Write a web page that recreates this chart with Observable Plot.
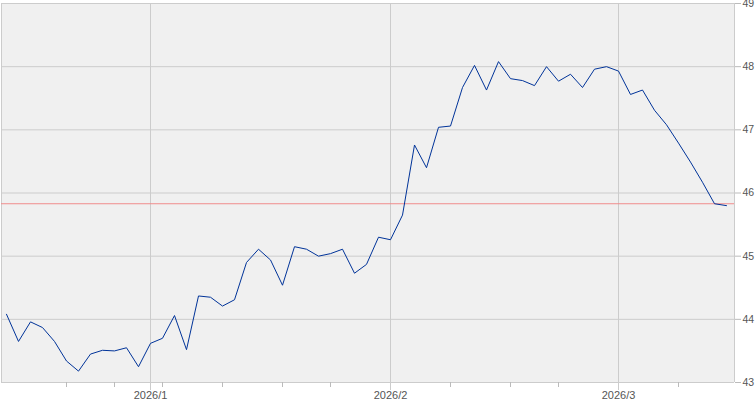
<!DOCTYPE html>
<html><head><meta charset="utf-8">
<script src="https://cdn.jsdelivr.net/npm/d3@7"></script>
<script src="https://cdn.jsdelivr.net/npm/@observablehq/plot@0.6"></script>
<style>body{margin:0;background:#fff}</style>
</head><body><div id="chart"></div>
<script>
const dates = [
  "2025-12-15","2025-12-16","2025-12-17","2025-12-18","2025-12-19","2025-12-22","2025-12-23","2025-12-24","2025-12-26","2025-12-29","2025-12-30","2025-12-31",
  "2026-01-02","2026-01-05","2026-01-06","2026-01-07","2026-01-08","2026-01-09","2026-01-12","2026-01-13","2026-01-14","2026-01-15","2026-01-16","2026-01-20","2026-01-21","2026-01-22","2026-01-23","2026-01-26","2026-01-27","2026-01-28","2026-01-29","2026-01-30",
  "2026-02-02","2026-02-03","2026-02-04","2026-02-05","2026-02-06","2026-02-09","2026-02-10","2026-02-11","2026-02-12","2026-02-13","2026-02-17","2026-02-18","2026-02-19","2026-02-20","2026-02-23","2026-02-24","2026-02-25","2026-02-26","2026-02-27",
  "2026-03-02","2026-03-03","2026-03-04","2026-03-05","2026-03-06","2026-03-09","2026-03-10","2026-03-11","2026-03-12","2026-03-13"
];
const values = [
  44.08,43.65,43.96,43.87,43.65,43.34,43.18,43.45,43.51,43.50,43.55,43.25,
  43.62,43.70,44.06,43.52,44.37,44.35,44.21,44.31,44.90,45.11,44.94,44.54,45.15,45.11,45.00,45.04,45.11,44.73,44.87,45.30,
  45.26,45.65,46.76,46.40,47.04,47.06,47.67,48.02,47.63,48.08,47.81,47.78,47.70,48.00,47.77,47.88,47.67,47.96,48.00,
  47.93,47.56,47.63,47.31,47.08,46.79,46.49,46.17,45.83,45.80
];
const monthLabels = ["2026/1","2026/2","2026/3"];
const monthStarts = ["2026-01-02","2026-02-02","2026-03-02"];
const yTicks = [43,44,45,46,47,48,49];
const yLabels = ["43","44","45","46","47","48","49"];
const refValue = 45.83;

const data = dates.map((d, i) => ({i, date: d, value: values[i]}));
const monthIdx = monthStarts.map(d => dates.indexOf(d));
const weekIdx = [];
for (let i = 1; i < dates.length; i++) {
  const a = new Date(dates[i-1] + "T00:00:00Z"), b = new Date(dates[i] + "T00:00:00Z");
  if (b.getUTCDay() < a.getUTCDay() && !monthIdx.includes(i)) weekIdx.push(i);
}
const xDomain = [-5/12, dates.length - 1 + 8/12];

const chart = Plot.plot({
  width: 755, height: 400,
  marginLeft: 1, marginRight: 21, marginTop: 3, marginBottom: 18,
  x: {type: "linear", domain: xDomain, axis: null, label: null},
  y: {domain: [43, 49], axis: null, label: null},
  style: {fontFamily: "'Liberation Sans', Arial, sans-serif", fontSize: "11px", color: "#555", background: "transparent"},
  marks: [
    Plot.frame({fill: "#f0f0f0", stroke: "none"}),
    Plot.ruleY(yTicks, {stroke: "#cccccc", strokeOpacity: 1}),
    Plot.ruleX(monthIdx, {stroke: "#cccccc", strokeOpacity: 1}),
    Plot.ruleX(xDomain, {stroke: "#cccccc", strokeOpacity: 1}),
    Plot.ruleY([refValue], {stroke: "#f08c8c", strokeOpacity: 1}),
    Plot.line(data, {x: "i", y: "value", stroke: "#003399", strokeWidth: 1}),
    Plot.axisX(weekIdx, {anchor: "bottom", label: null, tickSize: 5, tickFormat: () => "", stroke: "#bbbbbb", strokeOpacity: 1}),
    Plot.axisX(monthIdx, {anchor: "bottom", label: null, tickSize: 8, tickPadding: 1, tickFormat: d => monthLabels[monthIdx.indexOf(d)], stroke: "#cccccc", strokeOpacity: 1, fill: "#555"}),
    Plot.axisY(yTicks, {anchor: "right", label: null, tickSize: 6, tickPadding: 2, fontSize: 10.5, tickFormat: d => yLabels[yTicks.indexOf(d)], stroke: "#bbbbbb", strokeOpacity: 1, fill: "#555"})
  ]
});
document.getElementById("chart").appendChild(chart);
</script>
</body></html>
